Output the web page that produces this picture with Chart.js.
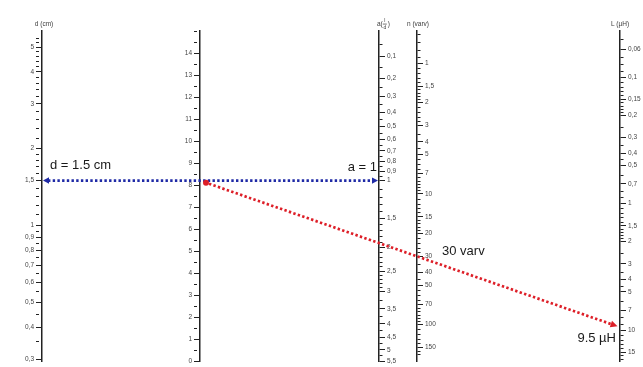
<!DOCTYPE html>
<html>
<head>
<meta charset="utf-8">
<script src="https://cdn.jsdelivr.net/npm/chart.js@4.4.1/dist/chart.umd.min.js"></script>
<style>
  html, body { margin: 0; padding: 0; background: #ffffff; }
  canvas { display: block; }
</style>
</head>
<body>
<canvas id="nomogram" width="643" height="367"></canvas>
<script>
// ---- scale graduations ----
// d (cm), coil diameter – logarithmic
const dMajor  = [0.3, 0.4, 0.5, 0.6, 0.7, 0.8, 0.9, 1, 1.5, 2, 3, 4, 5];
const dLabels = ['0,3', '0,4', '0,5', '0,6', '0,7', '0,8', '0,9', '1', '1,5', '2', '3', '4', '5'];
const dMinor  = [0.35, 0.45, 0.55, 0.65, 0.75, 0.85, 0.95, 1.1, 1.2, 1.3, 1.4, 1.6, 1.7, 1.8, 1.9,
                 2.2, 2.4, 2.6, 2.8, 3.2, 3.4, 3.6, 3.8, 4.2, 4.4, 4.6, 4.8, 5.2, 5.4];

// turning axis – plain linear graduation
const pMajor  = [0, 1, 2, 3, 4, 5, 6, 7, 8, 9, 10, 11, 12, 13, 14];
const pLabels = ['0', '1', '2', '3', '4', '5', '6', '7', '8', '9', '10', '11', '12', '13', '14'];
const pMinor  = [0.5, 1.5, 2.5, 3.5, 4.5, 5.5, 6.5, 7.5, 8.5, 9.5, 10.5, 11.5, 12.5, 13.5, 14.5, 15];

// a = l/d, length-to-diameter ratio
const aMajor  = [0.1, 0.2, 0.3, 0.4, 0.5, 0.6, 0.7, 0.8, 0.9, 1, 1.5, 2, 2.5, 3, 3.5, 4, 4.5, 5, 5.5];
const aLabels = ['0,1', '0,2', '0,3', '0,4', '0,5', '0,6', '0,7', '0,8', '0,9', '1', '1,5', '2', '2,5',
                 '3', '3,5', '4', '4,5', '5', '5,5'];
const aMinor  = [0.05, 0.15, 0.25, 0.35, 0.45, 0.55, 0.65, 0.75, 0.85, 0.95, 1.1, 1.2, 1.3, 1.4,
                 1.6, 1.7, 1.8, 1.9, 2.1, 2.2, 2.3, 2.4, 2.6, 2.7, 2.8, 2.9, 3.25, 3.75, 4.25, 4.75, 5.25];

// n (varv), number of turns – logarithmic
const nMajor  = [1, 1.5, 2, 3, 4, 5, 7, 10, 15, 20, 30, 40, 50, 70, 100, 150];
const nLabels = ['1', '1,5', '2', '3', '4', '5', '7', '10', '15', '20', '30', '40', '50', '70', '100', '150'];
const nMinor  = [0.6, 0.7, 0.8, 0.9, 1.1, 1.2, 1.3, 1.4, 1.6, 1.7, 1.8, 1.9, 2.2, 2.4, 2.6, 2.8, 3.5, 4.5,
                 5.5, 6, 6.5, 7.5, 8, 8.5, 9, 9.5, 11, 12, 13, 14, 16, 17, 18, 19, 22, 24, 26, 28, 35, 45,
                 55, 60, 65, 75, 80, 85, 90, 95, 110, 120, 130, 140, 160, 170];

// L (µH), inductance – logarithmic
const LMajor  = [0.06, 0.1, 0.15, 0.2, 0.3, 0.4, 0.5, 0.7, 1, 1.5, 2, 3, 4, 5, 7, 10, 15];
const LLabels = ['0,06', '0,1', '0,15', '0,2', '0,3', '0,4', '0,5', '0,7', '1', '1,5', '2', '3', '4',
                 '5', '7', '10', '15'];
const LMinor  = [0.05, 0.07, 0.08, 0.09, 0.11, 0.12, 0.13, 0.14, 0.16, 0.17, 0.18, 0.19, 0.25, 0.35, 0.45,
                 0.6, 0.8, 0.9, 1.1, 1.2, 1.3, 1.4, 1.6, 1.7, 1.8, 1.9, 2.5, 3.5, 4.5, 6, 8, 9,
                 11, 12, 13, 14, 16, 17];

// ---- worked example ----
const dReading = 1.5;   // cm
const aReading = 1;     // l/d
const nReading = 30;    // turns
const LReading = 9.5;   // µH

// the a scale is graduated in log(18 + 40·a) (Wheeler's coil formula)
const toU = (a) => 18 + 40 * a;

// horizontal placement of the five scales (px)
const axisX = { d: 42, p: 200, a: 379, n: 417, L: 620 };

const FONT = '"Liberation Sans", Arial, sans-serif';
const INK = '#222222';

function tickList(major, labels, minor, map) {
  const f = map || ((v) => v);
  return major.map((v, i) => ({ value: f(v), major: true, text: labels[i] }))
    .concat(minor.map((v) => ({ value: f(v), major: false, text: '' })))
    .sort((p, q) => p.value - q.value);
}

function axis(type, position, min, max, reverse, ticks) {
  return {
    type, position, min, max, reverse,
    bounds: 'data',
    afterBuildTicks: (scale) => { scale.ticks = ticks.map((t) => ({ ...t })); },
    ticks: {
      autoSkip: false,
      padding: 2,
      color: '#454545',
      font: { family: FONT, size: 6.5 },
      callback: (value, index, list) => list[index].text
    },
    grid: {
      display: true,
      drawOnChartArea: false,
      drawTicks: true,
      tickLength: 6,
      tickWidth: 1,
      tickColor: INK,
      tickBorderDash: (ctx) => (ctx.tick && ctx.tick.major ? [] : [3, 40])
    },
    border: { display: true, color: INK, width: 1.5 }
  };
}

// move each vertical scale to its own column
const placeAxes = {
  id: 'placeAxes',
  afterLayout(chart) {
    for (const [id, x] of Object.entries(axisX)) {
      const s = chart.scales[id];
      const w = s.width;
      if (s.options.position === 'left') { s.left = x - w; s.right = x; }
      else { s.left = x; s.right = x + w; }
    }
  }
};

function arrowHead(ctx, tipX, tipY, angle, len, half, color) {
  ctx.save();
  ctx.translate(tipX, tipY);
  ctx.rotate(angle);
  ctx.beginPath();
  ctx.moveTo(0, 0);
  ctx.lineTo(-len, -half);
  ctx.lineTo(-len, half);
  ctx.closePath();
  ctx.fillStyle = color;
  ctx.fill();
  ctx.restore();
}

function dotted(ctx, x1, y1, x2, y2, color) {
  ctx.save();
  ctx.strokeStyle = color;
  ctx.lineWidth = 2.7;
  ctx.lineCap = 'butt';
  ctx.setLineDash([2.4, 2.3]);
  ctx.beginPath();
  ctx.moveTo(x1, y1);
  ctx.lineTo(x2, y2);
  ctx.stroke();
  ctx.restore();
}

// scale titles and the worked example (index lines + captions)
const readings = {
  id: 'readings',
  afterDraw(chart) {
    const { ctx, scales, chartArea } = chart;
    const blue = '#1f2aa6';
    const red = '#dd1f28';

    // titles above the scales
    ctx.save();
    ctx.fillStyle = '#3c3c3c';
    ctx.font = '6.5px ' + FONT;
    ctx.textAlign = 'center';
    ctx.textBaseline = 'middle';
    const ty = chartArea.top - 7;
    ctx.fillText('d (cm)', axisX.d + 2, ty);
    ctx.fillText('n (varv)', axisX.n + 1, ty);
    ctx.fillText('L (µH)', axisX.L, ty);
    // a(l/d) with a stacked fraction
    const ax = axisX.a - 2;
    ctx.textAlign = 'left';
    ctx.fillText('a(', ax, ty);
    const fx = ax + ctx.measureText('a(').width + 2;
    ctx.font = '5px ' + FONT;
    ctx.textAlign = 'center';
    ctx.fillText('l', fx, ty - 3.2);
    ctx.fillText('d', fx, ty + 3.4);
    ctx.fillRect(fx - 2, ty - 0.3, 4, 0.7);
    ctx.font = '6.5px ' + FONT;
    ctx.textAlign = 'left';
    ctx.fillText(')', fx + 3, ty);
    ctx.restore();

    // values placed through the scales
    const xd = axisX.d, xp = axisX.p, xa = axisX.a, xn = axisX.n, xL = axisX.L;
    const yd = scales.d.getPixelForValue(dReading);
    const ya = scales.a.getPixelForValue(toU(aReading));
    const yn = scales.n.getPixelForValue(nReading);
    const yL = scales.L.getPixelForValue(LReading);

    // first index line: d to a
    dotted(ctx, xd + 6, yd, xa - 6, ya, blue);
    arrowHead(ctx, xd + 1, yd, Math.PI, 6, 3.2, blue);
    arrowHead(ctx, xa - 1, ya, 0, 6, 3.2, blue);

    // crossing on the turning axis
    const yp = yd + (ya - yd) * (xp - xd) / (xa - xd);

    // second index line: turning point to L, passing n
    const ang = Math.atan2(yL - yp, xL - xp);
    const sx = xp + 6, sy = yp + 6 * Math.tan(ang);
    const tipX = xL - 2.5, tipY = yp + (tipX - xp) * Math.tan(ang);
    dotted(ctx, sx + 3, sy + 3 * Math.tan(ang), tipX - 6 * Math.cos(ang), tipY - 6 * Math.sin(ang), red);
    arrowHead(ctx, tipX, tipY, ang, 7, 3.4, red);
    ctx.save();
    ctx.fillStyle = red;
    ctx.beginPath();
    ctx.arc(sx, sy, 3, 0, Math.PI * 2);
    ctx.fill();
    ctx.restore();

    // captions
    ctx.save();
    ctx.fillStyle = '#1a1a1a';
    ctx.font = '13px ' + FONT;
    ctx.textBaseline = 'middle';
    ctx.textAlign = 'left';
    ctx.fillText('d = ' + String(dReading) + ' cm', xd + 8, yd - 15);
    ctx.textAlign = 'right';
    ctx.fillText('a = ' + String(aReading), xa - 2, ya - 13);
    ctx.textAlign = 'left';
    ctx.fillText(String(nReading) + ' varv', xn + 25, yn - 5);
    ctx.textAlign = 'right';
    ctx.fillText(String(LReading) + ' µH', xL - 4, yL + 11);
    ctx.restore();
  }
};

new Chart(document.getElementById('nomogram'), {
  type: 'scatter',
  data: { datasets: [] },
  options: {
    responsive: false,
    devicePixelRatio: 1,
    animation: false,
    layout: { padding: { top: 31, bottom: 5, left: 0, right: 0 } },
    plugins: { legend: { display: false }, tooltip: { enabled: false } },
    scales: {
      x: { type: 'linear', display: false, min: 0, max: 1 },
      d: axis('logarithmic', 'left', 0.2944, 5.78, false, tickList(dMajor, dLabels, dMinor)),
      p: axis('linear', 'left', 0, 15, false, tickList(pMajor, pLabels, pMinor)),
      a: axis('logarithmic', 'right', toU(0), toU(5.5), true, tickList(aMajor, aLabels, aMinor, toU)),
      n: axis('logarithmic', 'right', 0.567, 190.6, true, tickList(nMajor, nLabels, nMinor)),
      L: axis('logarithmic', 'right', 0.0432, 17.61, true, tickList(LMajor, LLabels, LMinor))
    }
  },
  plugins: [placeAxes, readings]
});
</script>
</body>
</html>
